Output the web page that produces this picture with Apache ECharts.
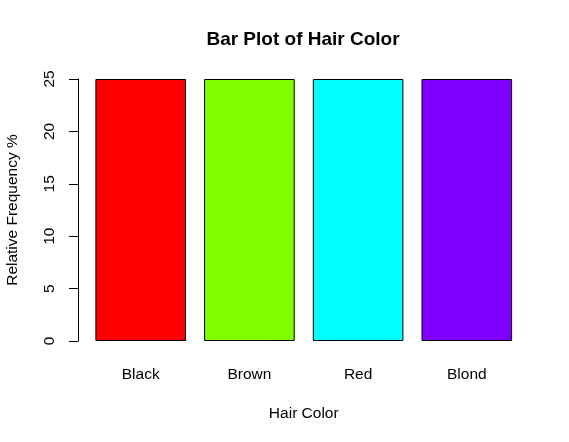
<!DOCTYPE html>
<html>
<head>
<meta charset="utf-8">
<script src="https://cdn.jsdelivr.net/npm/echarts@6/dist/echarts.min.js"></script>
<style>
html,body{margin:0;padding:0;background:#fff;}
#chart{width:569px;height:442px;}
</style>
</head>
<body>
<div id="chart"></div>
<script>
var categories = ["Black", "Brown", "Red", "Blond"];
var values = [25, 25, 25, 25];
var barColors = ["#FF0000", "#80FF00", "#00FFFF", "#8000FF"];
var yTicks = [0, 5, 10, 15, 20, 25];

var FONT = '"Liberation Sans", Arial, sans-serif';
var chart = echarts.init(document.getElementById('chart'), null, {renderer: 'canvas'});
chart.setOption({
  animation: false,
  backgroundColor: '#ffffff',
  graphic: [{
    type: 'text',
    x: 303, y: 40,
    style: {
      text: 'Bar Plot of Hair Color',
      fontFamily: FONT, fontSize: 19, fontWeight: 'bold',
      fill: '#000', textAlign: 'center', textVerticalAlign: 'middle'
    }
  }],
  grid: {left: 86.35, right: 47.85, top: 79, bottom: 101, containLabel: false, outerBoundsMode: 'none'},
  xAxis: {
    type: 'category',
    data: categories,
    name: 'Hair Color',
    nameLocation: 'middle',
    nameGap: 65,
    nameTextStyle: {fontFamily: FONT, fontSize: 15.5, color: '#000'},
    axisLine: {show: false},
    axisTick: {show: false},
    axisLabel: {fontFamily: FONT, fontSize: 15.5, color: '#000', margin: 26},
    splitLine: {show: false}
  },
  yAxis: {
    type: 'value',
    min: yTicks[0], max: yTicks[yTicks.length - 1], interval: 5,
    offset: 8.35,
    name: 'Relative Frequency %',
    nameLocation: 'middle',
    nameGap: 57,
    nameTextStyle: {fontFamily: FONT, fontSize: 15.5, color: '#000'},
    axisLine: {show: true, lineStyle: {color: '#000', width: 1}},
    axisTick: {show: true, length: 9, lineStyle: {color: '#000', width: 1}},
    axisLabel: {fontFamily: FONT, fontSize: 15.5, color: '#000', rotate: 90, margin: 20},
    splitLine: {show: false}
  },
  series: [{
    type: 'bar',
    data: values.map(function (v, i) {
      return {value: v, itemStyle: {color: barColors[i]}};
    }),
    barWidth: 90.6,
    itemStyle: {borderColor: '#000', borderWidth: 1}
  }]
});
</script>
</body>
</html>
